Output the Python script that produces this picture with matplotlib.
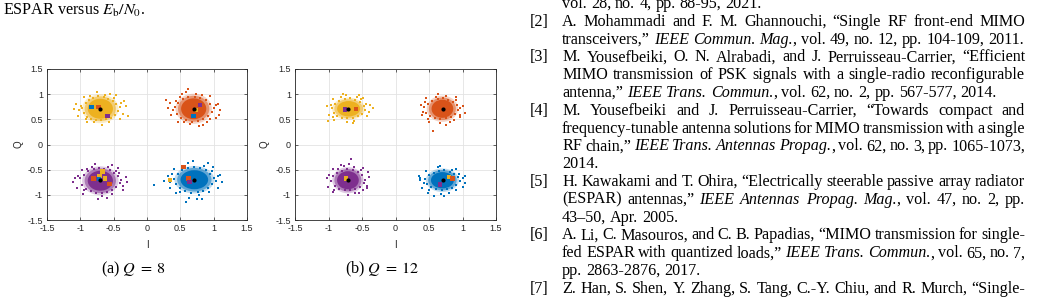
import matplotlib.pyplot as plt
from matplotlib.patches import Ellipse

W, H = 1042, 298
BLUE, ORANGE, YELLOW, PURPLE = '#0072BD', '#D95319', '#EDB120', '#7E2F8E'

ticks = [-1.5, -1, -0.5, 0, 0.5, 1, 1.5]
tick_labels = ['-1.5', '-1', '-0.5', '0', '0.5', '1', '1.5']

# ideal QPSK points (black dots)
ideal_i = [-0.707, 0.707, -0.707, 0.707]
ideal_q = [0.707, 0.707, -0.707, -0.707]

# received clouds: yellow (UL), orange (UR), purple (LL), blue (LR)
cloud_colors = [YELLOW, ORANGE, PURPLE, BLUE]
a_centres = [(-0.70, 0.71), (0.70, 0.71), (-0.70, -0.72), (0.71, -0.70)]
b_centres = [(-0.70, 0.71), (0.70, 0.71), (-0.71, -0.71), (0.70, -0.71)]
a_core = [(0.42, 0.44), (0.42, 0.46), (0.42, 0.44), (0.46, 0.42)]
b_core = [(0.38, 0.34), (0.36, 0.40), (0.36, 0.40), (0.38, 0.36)]

# scattered points around each cloud (offsets from the cloud centre)
a_yellow_halo = [(-0.27, 0.02), (-0.24, -0.09), (-0.22, 0.11), (-0.20, -0.16), (-0.17, 0.18),
                 (-0.29, 0.06), (-0.14, -0.20), (-0.11, 0.22), (-0.07, -0.22), (-0.03, 0.25),
                 (0.01, -0.23), (0.05, 0.23), (0.09, -0.21), (0.12, 0.20), (0.16, -0.18),
                 (0.19, 0.16), (0.22, -0.12), (0.24, 0.09), (0.27, -0.04), (0.29, 0.03),
                 (0.42, -0.14), (0.34, -0.10), (-0.32, -0.02), (0.07, 0.28), (-0.10, -0.26),
                 (0.20, 0.22), (-0.22, -0.20), (0.31, 0.12), (-0.16, 0.25), (0.13, -0.26),
                 (-0.36, 0.10), (-0.33, -0.14), (0.38, 0.05), (0.30, -0.20), (-0.05, 0.33),
                 (0.15, 0.30), (-0.25, 0.24), (0.02, -0.32), (-0.20, -0.26), (0.36, 0.16),
                 (-0.40, 0.00), (0.24, 0.27)]
a_orange_halo = [(-0.42, 0.17), (-0.08, 0.40), (0.38, -0.12), (-0.28, 0.04), (-0.25, -0.10),
                 (-0.23, 0.12), (-0.19, -0.18), (-0.16, 0.20), (-0.12, -0.23), (-0.08, 0.24),
                 (-0.03, -0.26), (0.02, 0.23), (0.06, -0.24), (0.10, 0.22), (0.14, -0.21),
                 (0.18, 0.17), (0.21, -0.15), (0.24, 0.10), (0.27, -0.06), (0.30, 0.02),
                 (-0.31, -0.03), (0.25, -0.20), (-0.20, 0.23), (0.12, 0.27), (-0.05, -0.30),
                 (0.33, 0.08), (-0.27, 0.15), (0.04, 0.30), (0.20, -0.26), (-0.14, -0.27),
                 (-0.36, 0.12), (-0.34, -0.12), (0.36, 0.10), (0.33, -0.18), (-0.12, 0.34),
                 (0.08, -0.35), (0.25, 0.26), (-0.24, -0.26), (0.40, -0.02), (-0.18, 0.30),
                 (0.14, -0.33), (-0.38, 0.02)]
a_purple_halo = [(-0.41, -0.03), (-0.30, 0.05), (-0.27, -0.08), (-0.24, 0.12), (-0.21, -0.16),
                 (-0.18, 0.19), (-0.14, -0.21), (-0.10, 0.23), (-0.06, -0.24), (-0.02, 0.26),
                 (0.02, -0.25), (0.06, 0.24), (0.10, -0.22), (0.14, 0.21), (0.17, -0.19),
                 (0.20, 0.16), (0.23, -0.13), (0.26, 0.09), (0.29, -0.05), (0.31, 0.02),
                 (0.24, 0.20), (-0.25, -0.19), (0.11, 0.28), (-0.13, 0.27), (0.03, -0.30),
                 (-0.33, 0.09), (0.34, -0.10), (0.18, -0.26), (-0.20, 0.24), (0.28, 0.15),
                 (-0.38, 0.06), (-0.35, -0.14), (0.38, 0.08), (0.34, -0.18), (-0.08, 0.34),
                 (0.10, -0.34), (0.26, 0.25), (-0.26, -0.26), (-0.28, 0.22), (0.18, 0.31),
                 (-0.04, -0.36), (0.40, -0.03)]
a_blue_halo = [(-0.60, -0.11), (-0.12, -0.45), (-0.02, 0.37), (-0.30, 0.01), (-0.27, -0.09),
               (-0.25, 0.11), (-0.22, -0.16), (-0.18, 0.19), (-0.14, -0.22), (-0.10, 0.24),
               (-0.05, -0.26), (0.00, 0.25), (0.05, -0.25), (0.09, 0.23), (0.13, -0.22),
               (0.17, 0.19), (0.20, -0.16), (0.23, 0.12), (0.26, -0.08), (0.29, 0.03),
               (0.32, -0.02), (-0.37, -0.05), (-0.22, -0.25), (0.14, 0.27), (-0.15, 0.28),
               (0.27, 0.18), (0.22, -0.24), (-0.33, 0.12), (0.07, -0.31), (0.35, 0.07),
               (-0.08, -0.36), (0.12, -0.38), (-0.40, 0.08), (-0.36, -0.16), (0.38, 0.10),
               (0.36, -0.16), (-0.10, 0.34), (0.04, -0.38), (0.28, 0.26), (-0.28, -0.27),
               (-0.30, 0.22), (0.20, 0.33), (0.42, -0.04), (-0.46, -0.02)]
b_yellow_halo = [(-0.31, -0.24), (0.36, 0.02), (-0.25, 0.01), (-0.22, -0.09), (-0.20, 0.10),
                 (-0.17, -0.14), (-0.14, 0.16), (-0.10, -0.18), (-0.06, 0.20), (-0.02, -0.19),
                 (0.02, 0.21), (0.06, -0.18), (0.10, 0.17), (0.14, -0.15), (0.17, 0.13),
                 (0.20, -0.10), (0.23, 0.06), (0.25, -0.02), (-0.27, 0.07), (0.08, -0.25),
                 (-0.12, 0.24), (0.26, 0.10), (-0.08, 0.30), (-0.23, -0.17), (0.19, 0.19),
                 (0.30, -0.07), (-0.03, -0.27), (0.13, 0.24), (-0.32, 0.06), (-0.29, -0.12),
                 (0.32, 0.08), (0.28, -0.14), (-0.04, 0.28), (0.06, -0.29), (0.22, 0.22),
                 (-0.22, -0.22), (-0.24, 0.20), (0.16, 0.27)]
b_orange_halo = [(-0.14, -0.45), (-0.27, 0.03), (-0.24, -0.08), (-0.21, 0.09), (-0.18, -0.14),
                 (-0.15, 0.15), (-0.11, -0.18), (-0.07, 0.19), (-0.03, -0.20), (0.01, 0.21),
                 (0.05, -0.19), (0.09, 0.18), (0.13, -0.16), (0.16, 0.14), (0.19, -0.11),
                 (0.22, 0.07), (0.24, -0.03), (0.26, 0.02), (-0.29, -0.06), (-0.22, -0.20),
                 (0.12, -0.26), (-0.04, -0.28), (0.20, 0.17), (-0.10, 0.23), (0.27, -0.12),
                 (0.05, 0.25), (0.18, -0.22), (-0.26, 0.14), (-0.32, 0.08), (-0.30, -0.13),
                 (0.31, 0.05), (0.27, -0.17), (-0.06, 0.29), (0.05, -0.32), (0.20, 0.23),
                 (-0.20, -0.27), (-0.24, 0.21), (0.33, -0.08)]
b_purple_halo = [(0.05, 0.42), (0.10, -0.26), (0.17, -0.25), (-0.26, -0.02), (-0.23, 0.08),
                 (-0.20, -0.12), (-0.17, 0.14), (-0.13, -0.17), (-0.09, 0.19), (-0.05, -0.20),
                 (-0.01, 0.22), (0.03, -0.20), (0.07, 0.20), (0.11, -0.18), (0.15, 0.16),
                 (0.18, -0.13), (0.21, 0.10), (0.24, -0.06), (0.26, 0.01), (0.02, 0.33),
                 (-0.06, 0.29), (0.20, 0.21), (-0.21, -0.19), (0.28, -0.12), (-0.28, 0.10),
                 (0.09, 0.26), (-0.15, 0.23), (0.23, -0.19), (-0.31, 0.04), (-0.30, -0.14),
                 (0.32, 0.06), (0.28, -0.16), (-0.10, 0.30), (0.00, -0.30), (0.22, 0.24),
                 (-0.22, -0.24), (-0.23, 0.22), (0.30, 0.16)]
b_blue_halo = [(-0.12, -0.31), (-0.35, 0.09), (-0.33, 0.05), (-0.26, 0.02), (-0.23, -0.08),
               (-0.20, 0.10), (-0.17, -0.13), (-0.13, 0.15), (-0.09, -0.18), (-0.05, 0.19),
               (-0.01, -0.20), (0.03, 0.20), (0.07, -0.18), (0.11, 0.17), (0.15, -0.15),
               (0.18, 0.13), (0.21, -0.10), (0.24, 0.07), (0.27, -0.02), (-0.07, 0.26),
               (0.15, 0.21), (-0.20, -0.19), (0.25, 0.12), (0.30, 0.05), (-0.02, -0.27),
               (0.10, -0.26), (-0.28, -0.05), (0.20, -0.20), (-0.34, 0.00), (-0.30, -0.15),
               (0.33, 0.09), (0.30, -0.14), (-0.03, 0.29), (0.03, -0.31), (0.21, 0.22),
               (-0.21, -0.25), (-0.25, 0.18), (0.34, -0.06)]
a_halos = [a_yellow_halo, a_orange_halo, a_purple_halo, a_blue_halo]
b_halos = [b_yellow_halo, b_orange_halo, b_purple_halo, b_blue_halo]

# square markers (estimated points)
a_sq_i = [-0.83, -0.73, -0.59, 0.795, 0.735, 0.695, -0.805, -0.665, -0.715, -0.63, -0.72, -0.565,
          0.545, 0.345, 0.62, 0.635]
a_sq_q = [0.75, 0.75, 0.57, 0.785, 0.685, 0.572, -0.672, -0.54, -0.626, -0.672, -0.69, -0.785,
          -0.441, -0.705, -0.672, -0.739]
a_sq_c = [BLUE, ORANGE, PURPLE, PURPLE, YELLOW, BLUE, ORANGE, YELLOW, YELLOW, YELLOW, BLUE, ORANGE,
          ORANGE, YELLOW, ORANGE, PURPLE]
b_sq_i = [-0.754, -0.594, -0.739, 0.803, 0.848, 0.664]
b_sq_q = [0.699, 0.705, -0.672, -0.640, -0.672, -0.791]
b_sq_c = [PURPLE, ORANGE, YELLOW, YELLOW, ORANGE, PURPLE]

ref_lines = [
    (None, 'vol. 28, no. 4, pp. 88-95, 2021.', False),
    ('[2]', 'A. Mohammadi and F. M. Ghannouchi, \u201cSingle RF front-end MIMO', True),
    (None, 'transceivers,\u201d *IEEE Commun. Mag.*, vol. 49, no. 12, pp. 104-109, 2011.', False),
    ('[3]', 'M. Yousefbeiki, O. N. Alrabadi, and J. Perruisseau-Carrier, \u201cEfficient', True),
    (None, 'MIMO transmission of PSK signals with a single-radio reconfigurable', True),
    (None, 'antenna,\u201d *IEEE Trans. Commun.*, vol. 62, no. 2, pp. 567-577, 2014.', False),
    ('[4]', 'M. Yousefbeiki and J. Perruisseau-Carrier, \u201cTowards compact and', True),
    (None, 'frequency-tunable antenna solutions for MIMO transmission with a single', True),
    (None, 'RF chain,\u201d *IEEE Trans. Antennas Propag.*, vol. 62, no. 3, pp. 1065-1073,', True),
    (None, '2014.', False),
    ('[5]', 'H. Kawakami and T. Ohira, \u201cElectrically steerable passive array radiator', True),
    (None, '(ESPAR) antennas,\u201d *IEEE Antennas Propag. Mag.*, vol. 47, no. 2, pp.', True),
    (None, '43\u201350, Apr. 2005.', False),
    ('[6]', 'A. Li, C. Masouros, and C. B. Papadias, \u201cMIMO transmission for single-', True),
    (None, 'fed ESPAR with quantized loads,\u201d *IEEE Trans. Commun.*, vol. 65, no. 7,', True),
    (None, 'pp. 2863-2876, 2017.', False),
    ('[7]', 'Z. Han, S. Shen, Y. Zhang, S. Tang, C.-Y. Chiu, and R. Murch, \u201cSingle-', True),
]

plt.rcParams['font.family'] = 'Liberation Sans'
fig = plt.figure(figsize=(W / 100, H / 100), dpi=100)

# full-figure overlay in pixel units for the page text
page = fig.add_axes([0, 0, 1, 1])
page.set_xlim(0, W)
page.set_ylim(H, 0)
page.axis('off')
renderer = fig.canvas.get_renderer()
BODY = dict(family='Liberation Serif', fontsize=11.6, va='baseline', color='black')


def text_width(t):
    return t.get_window_extent(renderer).width


t1 = page.text(0, 0, 'a a', **BODY)
t2 = page.text(0, 0, 'aa', **BODY)
SPACE = text_width(t1) - text_width(t2)
t1.remove()
t2.remove()


def put_line(x0, x1, y, line, justify):
    italic = False
    groups = []
    for word in line.split(' '):
        pieces = []
        for k, part in enumerate(word.split('*')):
            if k > 0:
                italic = not italic
            if part:
                pieces.append(page.text(0, y, part, style='italic' if italic else 'normal', **BODY))
        groups.append(pieces)
    widths = [[text_width(p) for p in g] for g in groups]
    total = sum(sum(w) for w in widths)
    gap = (x1 - x0 - total) / (len(groups) - 1) if justify else SPACE
    x = x0
    for g, ws in zip(groups, widths):
        for p, w in zip(g, ws):
            p.set_x(x)
            x += w
        x += gap


for k, (num, line, just) in enumerate(ref_lines):
    base = 8 + 17.8 * k
    if num:
        page.text(530, base, num, **BODY)
    put_line(562, 1025, base, line, just)

page.text(3, 15, r'ESPAR versus $E_\mathrm{b}/N_0$.', math_fontfamily='stix', **BODY)
page.text(133, 273, r'(a) $Q\;=\;8$', ha='center', math_fontfamily='stix', **BODY)
page.text(382, 273, r'(b) $Q\;=\;12$', ha='center', math_fontfamily='stix', **BODY)


def draw_panel(left, width, centres, cores, halos, sq_i, sq_q, sq_c, ylab_x, xlab_x):
    ax = fig.add_axes([left / W, (H - 220) / H, width / W, 151 / H])
    for c, (cw, ch), halo, col in zip(centres, cores, halos, cloud_colors):
        hx = [c[0] + d[0] for d in halo]
        hy = [c[1] + d[1] for d in halo]
        ax.add_patch(Ellipse(c, cw * 1.3, ch * 1.3, facecolor=col, edgecolor='none',
                             alpha=0.25, zorder=2))
        ax.add_patch(Ellipse(c, cw * 1.12, ch * 1.12, facecolor=col, edgecolor='none',
                             alpha=0.5, zorder=2))
        ax.add_patch(Ellipse(c, cw * 0.9, ch * 0.9, facecolor=col, edgecolor='none', zorder=3))
        ax.scatter(hx, hy, s=1.6, marker='s', color=col, linewidths=0, zorder=3)
    ax.scatter(sq_i, sq_q, s=10, marker='s', c=sq_c, linewidths=0, zorder=4)
    ax.scatter(ideal_i, ideal_q, s=9, marker='o', color='black', linewidths=0, zorder=5)
    ax.set_xlim(-1.5, 1.5)
    ax.set_ylim(-1.5, 1.5)
    ax.set_xticks(ticks)
    ax.set_xticklabels(tick_labels)
    ax.set_yticks(ticks)
    ax.set_yticklabels(tick_labels)
    ax.grid(True, color='#e3e3e3', linewidth=0.6)
    ax.set_axisbelow(True)
    ax.tick_params(direction='in', length=2, width=0.5, labelsize=6.5, top=True, right=True,
                   pad=3, colors='#262626')
    for s in ax.spines.values():
        s.set_linewidth(0.6)
        s.set_color('#262626')
    page.text(xlab_x, 245, 'I', ha='center', va='center', fontsize=7, color='#262626')
    page.text(ylab_x, 144, 'Q', ha='center', va='center', rotation=90, fontsize=7,
              color='#262626')
    return ax


draw_panel(47, 200, a_centres, a_core, a_halos, a_sq_i, a_sq_q, a_sq_c, 19, 147)
draw_panel(295, 201, b_centres, b_core, b_halos, b_sq_i, b_sq_q, b_sq_c, 265, 395)

fig.savefig('out.png', dpi=100)
